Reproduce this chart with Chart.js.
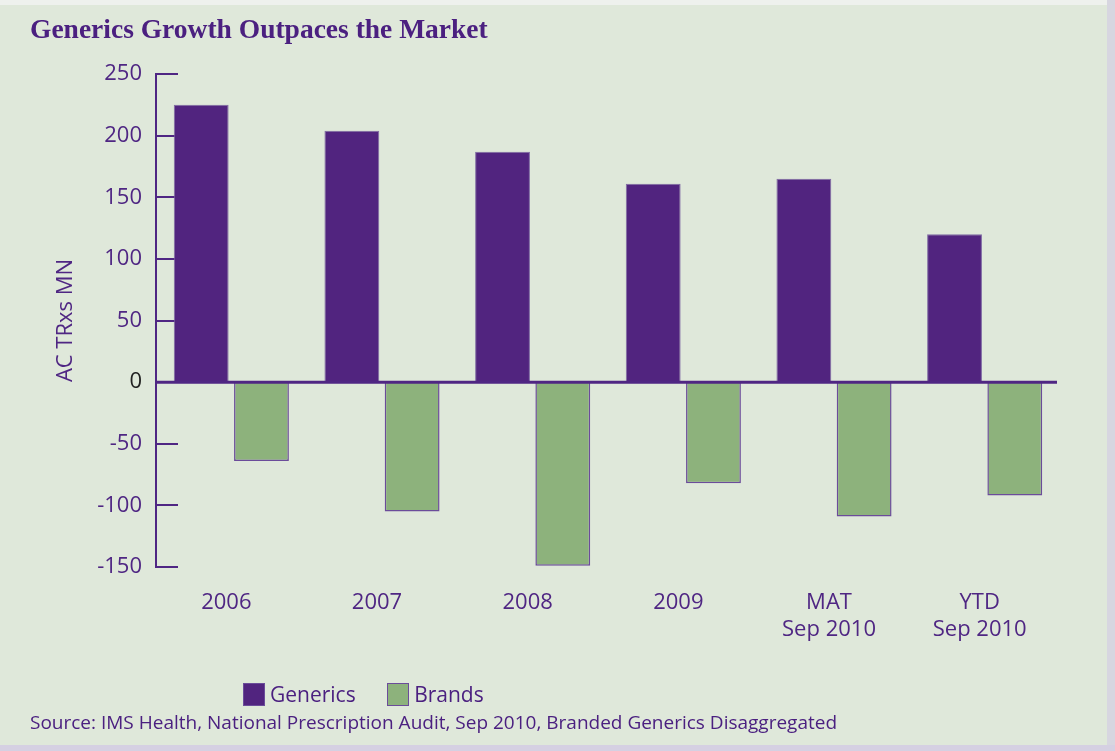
<!DOCTYPE html>
<html>
<head>
<meta charset="utf-8">
<script src="https://cdn.jsdelivr.net/npm/chart.js@4.4.1/dist/chart.umd.min.js"></script>
<style>
    body { margin: 0; background: #dfe8da; }
    #wrap { position: relative; width: 1115px; height: 751px; overflow: hidden; background: #dfe8da; }
    #wrap:before { content: ""; position: absolute; left: 0; top: 0; width: 1115px; height: 5px; background: #eef1ed; }
    #wrap:after { content: ""; position: absolute; left: 0; top: 745px; width: 1115px; height: 6px; background: #d5d0e2; }
    #edge { position: absolute; left: 1107px; top: 0; width: 8px; height: 751px; background: #d7d6e0; }
    canvas { position: absolute; left: 0; top: 0; }
    #title { position: absolute; left: 30px; top: 13px; font: bold 27.5px "Liberation Serif", serif; color: #4b2080; }
    #legend { position: absolute; left: 243px; top: 680px; font: 21px "Open Sans", sans-serif; color: #4b2080; }
    #legend span.box { display: inline-block; width: 20px; height: 21px; vertical-align: -4px; margin-right: 5px; border: 1px solid #6b4c9a; }
    #source { position: absolute; left: 30px; top: 709px; font: 19px "Open Sans", sans-serif; color: #4b2080; }
</style>
</head>
<body>
<div id="wrap">
    <canvas id="genericsChart" width="1115" height="751"></canvas>
    <div id="edge"></div>
    <div id="title">Generics Growth Outpaces the Market</div>
    <div id="legend">
        <span class="box" style="background:#51247f"></span>Generics
        <span class="box" style="background:#8db27c; margin-left:26px"></span>Brands
    </div>
    <div id="source">Source: IMS Health, National Prescription Audit, Sep 2010, Branded Generics Disaggregated</div>
</div>
<script>
// Chart data
const categories = ["2006", "2007", "2008", "2009", ["MAT", "Sep 2010"], ["YTD", "Sep 2010"]];
const genericsValues = [225, 204, 187, 161, 165, 120];
const brandsValues = [-64, -105, -149, -82, -109, -92];
const yTicks = [250, 200, 150, 100, 50, 0, -50, -100, -150];

const purple = "#4f2683";

// inward tick marks and the zero line
const axisMarks = {
    id: "axisMarks",
    beforeDatasetsDraw(chart) {
        const ctx = chart.ctx;
        const y = chart.scales.y;
        const left = chart.chartArea.left;
        ctx.save();
        ctx.strokeStyle = purple;
        ctx.lineWidth = 2;
        yTicks.forEach(v => {
            if (v === 0) return;
            const py = Math.round(y.getPixelForValue(v));
            ctx.beginPath();
            ctx.moveTo(left, py);
            ctx.lineTo(left + 22, py);
            ctx.stroke();
        });
        ctx.restore();
    },
    afterDatasetsDraw(chart) {
        const ctx = chart.ctx;
        const py = chart.scales.y.getPixelForValue(0);
        ctx.save();
        ctx.strokeStyle = purple;
        ctx.lineWidth = 3;
        ctx.beginPath();
        ctx.moveTo(chart.chartArea.left, py);
        ctx.lineTo(chart.chartArea.right - 3, py);
        ctx.stroke();
        ctx.restore();
    }
};

document.addEventListener("DOMContentLoaded", () => {
    const ctx = document.getElementById("genericsChart").getContext("2d");
    new Chart(ctx, {
        type: "bar",
        data: {
            labels: categories,
            datasets: [
                {
                    label: "Generics",
                    data: genericsValues,
                    backgroundColor: "#51247f",
                    borderColor: "#7f6aa3",
                    borderWidth: 1,
                    categoryPercentage: 0.8,
                    barPercentage: 0.91,
                },
                {
                    label: "Brands",
                    data: brandsValues,
                    backgroundColor: "#8db27c",
                    borderColor: "#6b4c9a",
                    borderWidth: 1.5,
                    categoryPercentage: 0.8,
                    barPercentage: 0.91,
                },
            ],
        },
        options: {
            responsive: false,
            animation: false,
            layout: { padding: { left: 0, top: 74, right: 55, bottom: 0 } },
            plugins: {
                legend: { display: false },
                tooltip: { enabled: false },
            },
            scales: {
                x: {
                    grid: { display: false },
                    border: { display: false },
                    ticks: {
                        color: purple,
                        font: { family: "Open Sans", size: 22 },
                        padding: 15,
                        labelOffset: -5,
                        maxRotation: 0,
                    },
                    afterFit: scale => { scale.height = 751 - 567; },
                },
                y: {
                    min: -150,
                    max: 250,
                    afterBuildTicks: scale => { scale.ticks = yTicks.map(v => ({ value: v })); },
                    grid: { display: false, drawTicks: false },
                    border: { display: true, color: purple, width: 2 },
                    ticks: {
                        padding: 14,
                        color: c => (c.tick.value === 0 ? "#222222" : purple),
                        font: { family: "Open Sans", size: 22 },
                    },
                    title: {
                        display: true,
                        text: "AC TRxs MN",
                        color: purple,
                        font: { family: "Open Sans", size: 22 },
                        padding: { top: 53, bottom: 0 },
                    },
                    afterFit: scale => { scale.width = 156; },
                },
            },
        },
        plugins: [axisMarks],
    });
});
</script>
</body>
</html>
